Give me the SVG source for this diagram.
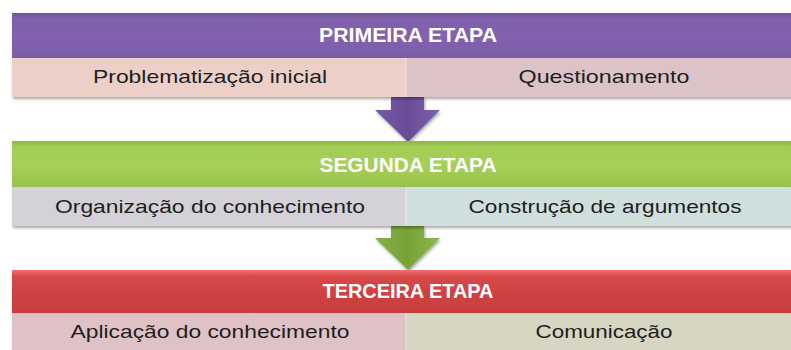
<svg xmlns="http://www.w3.org/2000/svg" width="791" height="350" viewBox="0 0 791 350">
<defs>
<filter id="sh" x="-5%" y="-20%" width="110%" height="150%">
<feDropShadow dx="1" dy="2" stdDeviation="1.5" flood-color="#000" flood-opacity="0.35"/>
</filter>
<linearGradient id="gP" x1="0" y1="0" x2="0" y2="1">
<stop offset="0" stop-color="#6f5494"/><stop offset="0.12" stop-color="#7e60ab"/><stop offset="0.5" stop-color="#8362b0"/><stop offset="1" stop-color="#7a5ca6"/>
</linearGradient>
<linearGradient id="gG" x1="0" y1="0" x2="0" y2="1">
<stop offset="0" stop-color="#8ab642"/><stop offset="0.12" stop-color="#a2cd55"/><stop offset="0.5" stop-color="#a6d058"/><stop offset="1" stop-color="#98c24c"/>
</linearGradient>
<linearGradient id="gR" x1="0" y1="0" x2="0" y2="1">
<stop offset="0" stop-color="#f07070"/><stop offset="0.15" stop-color="#d84848"/><stop offset="0.5" stop-color="#d04242"/><stop offset="1" stop-color="#c83e3e"/>
</linearGradient>
<linearGradient id="aP" x1="0" y1="0" x2="1" y2="0">
<stop offset="0" stop-color="#7558a3"/><stop offset="0.5" stop-color="#6a4c98"/><stop offset="1" stop-color="#7d60ad"/>
</linearGradient>
<linearGradient id="aG" x1="0" y1="0" x2="1" y2="0">
<stop offset="0" stop-color="#86b040"/><stop offset="0.5" stop-color="#78a238"/><stop offset="1" stop-color="#8cb848"/>
</linearGradient>
</defs>
<style>
.hd{font-family:"Liberation Sans",Arial,sans-serif;font-weight:bold;font-size:20px;fill:#ffffff;text-anchor:middle}
.sb{font-family:"Liberation Sans",Arial,sans-serif;font-size:19px;fill:#1e1e1e;text-anchor:middle}
.sep{stroke:#ffffff;stroke-opacity:0.5;stroke-width:1}
</style>
<g id="connectors">
<polygon points="391,97 424,97 424,110 440,110 408,142 375,110 391,110" fill="url(#aP)" filter="url(#sh)"/>
<polygon points="391,226 424,226 424,238 440,238 408,270 375,238 391,238" fill="url(#aG)" filter="url(#sh)"/>
</g>
<g id="etapa1">
<g filter="url(#sh)">
<rect x="12" y="13" width="790" height="45" fill="url(#gP)"/>
<rect x="12" y="58" width="394" height="39" fill="#ecd0c8"/>
<rect x="406" y="58" width="396" height="39" fill="#dcc3c8"/>
</g>
<line class="sep" x1="406" y1="58" x2="406" y2="97"/>
<text class="hd" x="408" y="42" textLength="178" lengthAdjust="spacingAndGlyphs">PRIMEIRA ETAPA</text>
</g>
<g id="n1a"><text class="sb" x="210" y="83" textLength="234" lengthAdjust="spacingAndGlyphs">Problematização inicial</text></g>
<g id="n1b"><text class="sb" x="604" y="83" textLength="171" lengthAdjust="spacingAndGlyphs">Questionamento</text></g>
<g id="etapa2">
<g filter="url(#sh)">
<rect x="12" y="141" width="790" height="46" fill="url(#gG)"/>
<rect x="12" y="187" width="394" height="39" fill="#d4d1d9"/>
<rect x="406" y="187" width="396" height="39" fill="#cfdfde"/>
</g>
<line class="sep" x1="406" y1="187" x2="406" y2="226"/>
<text class="hd" x="408" y="172" textLength="177" lengthAdjust="spacingAndGlyphs">SEGUNDA ETAPA</text>
</g>
<g id="n2a"><text class="sb" x="210" y="213" textLength="310" lengthAdjust="spacingAndGlyphs">Organização do conhecimento</text></g>
<g id="n2b"><text class="sb" x="605" y="213" textLength="273" lengthAdjust="spacingAndGlyphs">Construção de argumentos</text></g>
<g id="etapa3">
<g filter="url(#sh)">
<rect x="12" y="270" width="790" height="43" fill="url(#gR)"/>
<rect x="12" y="313" width="394" height="40" fill="#dfc2c6"/>
<rect x="406" y="313" width="396" height="40" fill="#d6d6c2"/>
</g>
<line class="sep" x1="406" y1="313" x2="406" y2="350"/>
<text class="hd" x="408" y="298" textLength="171" lengthAdjust="spacingAndGlyphs">TERCEIRA ETAPA</text>
</g>
<g id="n3a"><text class="sb" x="210" y="338" textLength="279" lengthAdjust="spacingAndGlyphs">Aplicação do conhecimento</text></g>
<g id="n3b"><text class="sb" x="604" y="338" textLength="137" lengthAdjust="spacingAndGlyphs">Comunicação</text></g>
</svg>
